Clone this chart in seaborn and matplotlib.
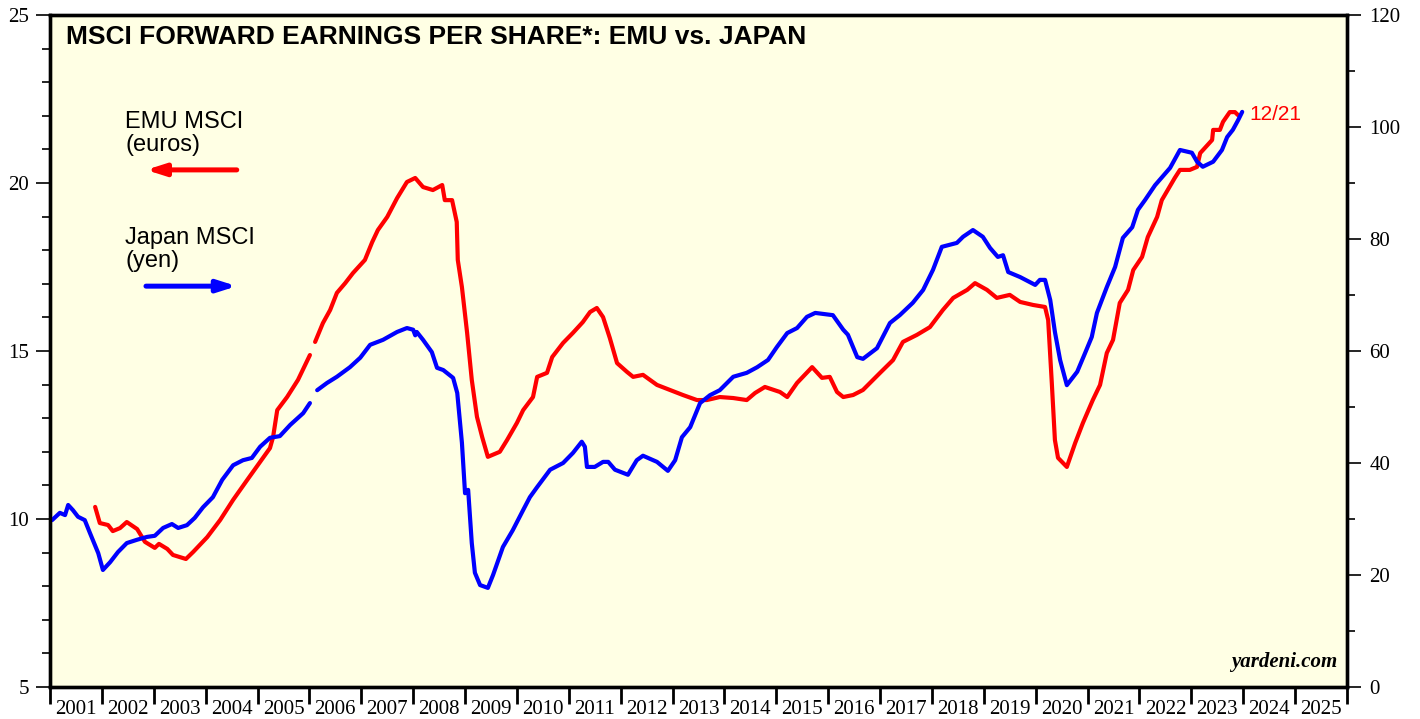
import numpy as np
import pandas as pd
import matplotlib
matplotlib.use("Agg")
import matplotlib.pyplot as plt
import seaborn as sns

# EMU MSCI forward EPS (euros), left axis
emu_year = [
    2001.87, 2001.96, 2002.12, 2002.21, 2002.35, 2002.48, 2002.68, 2002.83, 2003.02, 2003.10,
    2003.26, 2003.37, 2003.62, 2003.76, 2004.03, 2004.28, 2004.53, 2004.80, 2005.05, 2005.24,
    2005.30, 2005.38, 2005.57, 2005.78, 2006.01, 2006.11, 2006.26, 2006.40, 2006.53, 2006.69,
    2006.84, 2007.07, 2007.21, 2007.32, 2007.50, 2007.69, 2007.88, 2008.04, 2008.19, 2008.38,
    2008.56, 2008.61, 2008.75, 2008.84, 2008.86, 2008.94, 2009.04, 2009.13, 2009.23, 2009.33,
    2009.44, 2009.67, 2009.81, 2010.00, 2010.12, 2010.31, 2010.39, 2010.58, 2010.68, 2010.89,
    2011.08, 2011.27, 2011.41, 2011.54, 2011.66, 2011.79, 2011.93, 2012.12, 2012.24, 2012.43,
    2012.70, 2012.95, 2013.20, 2013.47, 2013.66, 2013.91, 2014.17, 2014.43, 2014.59, 2014.78,
    2015.07, 2015.21, 2015.40, 2015.69, 2015.88, 2016.03, 2016.17, 2016.29, 2016.48, 2016.67,
    2017.00, 2017.25, 2017.44, 2017.71, 2017.96, 2018.21, 2018.41, 2018.68, 2018.83, 2019.06,
    2019.25, 2019.50, 2019.70, 2019.95, 2020.18, 2020.24, 2020.31, 2020.37, 2020.43, 2020.60,
    2020.76, 2020.91, 2021.10, 2021.24, 2021.37, 2021.49, 2021.62, 2021.78, 2021.88, 2022.05,
    2022.16, 2022.34, 2022.43, 2022.68, 2022.78, 2022.97, 2023.11, 2023.17, 2023.40, 2023.42,
    2023.55, 2023.61, 2023.74, 2023.84, 2023.90,
]
emu_eps = [
    10.36, 9.88, 9.82, 9.64, 9.73, 9.91, 9.70, 9.32, 9.14, 9.26,
    9.11, 8.93, 8.81, 9.02, 9.46, 9.97, 10.57, 11.16, 11.70, 12.11,
    12.44, 13.24, 13.63, 14.14, 14.88, 15.27, 15.83, 16.22, 16.73, 17.02,
    17.32, 17.71, 18.24, 18.60, 18.99, 19.55, 20.03, 20.15, 19.88, 19.79,
    19.94, 19.49, 19.49, 18.84, 17.71, 16.90, 15.54, 14.14, 13.04, 12.44,
    11.85, 12.00, 12.35, 12.86, 13.24, 13.63, 14.23, 14.35, 14.82, 15.24,
    15.54, 15.86, 16.16, 16.28, 16.01, 15.39, 14.64, 14.38, 14.23, 14.29,
    13.99, 13.84, 13.69, 13.54, 13.54, 13.63, 13.60, 13.54, 13.75, 13.93,
    13.78, 13.63, 14.05, 14.52, 14.20, 14.23, 13.78, 13.63, 13.69, 13.84,
    14.35, 14.73, 15.27, 15.48, 15.71, 16.22, 16.58, 16.82, 17.02, 16.82,
    16.58, 16.67, 16.46, 16.37, 16.31, 15.92, 14.05, 12.35, 11.82, 11.55,
    12.26, 12.86, 13.54, 13.99, 14.94, 15.33, 16.43, 16.82, 17.41, 17.80,
    18.39, 18.99, 19.49, 20.15, 20.39, 20.39, 20.48, 20.89, 21.28, 21.58,
    21.58, 21.82, 22.11, 22.11, 22.02,
]

# Japan MSCI forward EPS (yen), right axis
jpn_year = [
    2001.04, 2001.19, 2001.29, 2001.35, 2001.44, 2001.54, 2001.67, 2001.77, 2001.93, 2002.02,
    2002.16, 2002.31, 2002.48, 2002.68, 2002.87, 2003.02, 2003.18, 2003.35, 2003.47, 2003.64,
    2003.79, 2003.95, 2004.14, 2004.32, 2004.53, 2004.72, 2004.89, 2005.05, 2005.24, 2005.43,
    2005.63, 2005.88, 2006.01, 2006.15, 2006.34, 2006.53, 2006.78, 2006.98, 2007.17, 2007.42,
    2007.69, 2007.88, 2008.00, 2008.04, 2008.07, 2008.19, 2008.36, 2008.46, 2008.58, 2008.77,
    2008.85, 2008.94, 2009.00, 2009.06, 2009.13, 2009.19, 2009.29, 2009.44, 2009.54, 2009.73,
    2009.92, 2010.12, 2010.25, 2010.39, 2010.64, 2010.89, 2011.08, 2011.25, 2011.31, 2011.35,
    2011.50, 2011.66, 2011.76, 2011.89, 2012.14, 2012.31, 2012.43, 2012.70, 2012.91, 2013.05,
    2013.18, 2013.34, 2013.53, 2013.72, 2013.91, 2014.17, 2014.43, 2014.63, 2014.84, 2015.01,
    2015.21, 2015.40, 2015.59, 2015.75, 2016.09, 2016.29, 2016.38, 2016.56, 2016.67, 2016.94,
    2017.19, 2017.38, 2017.63, 2017.83, 2018.02, 2018.19, 2018.48, 2018.60, 2018.79, 2018.98,
    2019.12, 2019.27, 2019.37, 2019.47, 2019.70, 2019.99, 2020.08, 2020.18, 2020.28, 2020.37,
    2020.47, 2020.60, 2020.80, 2020.95, 2021.08, 2021.18, 2021.37, 2021.53, 2021.68, 2021.86,
    2021.97, 2022.11, 2022.30, 2022.59, 2022.78, 2023.01, 2023.11, 2023.22, 2023.42, 2023.59,
    2023.69, 2023.80, 2023.90, 2023.98,
]
jpn_eps = [
    29.8, 31.1, 30.7, 32.5, 31.6, 30.4, 29.8, 27.5, 23.9, 20.9,
    22.3, 24.1, 25.7, 26.3, 26.8, 27.0, 28.4, 29.1, 28.4, 28.9,
    30.2, 32.1, 33.9, 37.0, 39.6, 40.5, 40.9, 42.9, 44.5, 44.8,
    46.8, 48.9, 50.7, 53.0, 54.3, 55.4, 57.1, 58.8, 61.1, 62.0,
    63.4, 64.1, 63.8, 62.8, 63.4, 62.0, 59.8, 57.0, 56.6, 55.2,
    52.5, 43.6, 34.6, 35.2, 25.7, 20.4, 18.2, 17.7, 20.0, 25.0,
    28.0, 31.6, 33.9, 35.7, 38.8, 40.0, 41.8, 43.8, 42.9, 39.3,
    39.3, 40.2, 40.2, 38.8, 37.9, 40.5, 41.3, 40.2, 38.6, 40.5,
    44.6, 46.4, 50.7, 52.1, 53.0, 55.4, 56.1, 57.1, 58.4, 60.7,
    63.2, 64.1, 66.1, 66.8, 66.4, 63.8, 62.9, 58.9, 58.6, 60.5,
    65.0, 66.4, 68.6, 70.9, 74.5, 78.6, 79.3, 80.4, 81.6, 80.4,
    78.4, 76.8, 77.1, 74.1, 73.2, 71.8, 72.7, 72.7, 69.1, 63.4,
    58.4, 53.9, 56.3, 59.6, 62.5, 66.8, 71.4, 75.0, 80.2, 82.1,
    85.2, 87.0, 89.6, 92.7, 95.9, 95.4, 93.8, 92.9, 93.8, 95.9,
    98.2, 99.5, 101.2, 102.7,
]

years = list(range(2001, 2026))
gap_year = 2006.06  # small break in both series
title = "MSCI FORWARD EARNINGS PER SHARE*: EMU vs. JAPAN"

emu = pd.DataFrame({"year": emu_year, "eps": emu_eps})
emu["seg"] = (emu["year"] > gap_year).astype(int)
jpn = pd.DataFrame({"year": jpn_year, "eps": jpn_eps})
jpn["seg"] = (jpn["year"] > gap_year).astype(int)

sns.set_style("ticks")
plt.rcParams.update({
    "text.color": "black",
    "xtick.color": "black",
    "ytick.color": "black",
    "axes.edgecolor": "black",
})
serif = "Liberation Serif"
sans = "Liberation Sans"

fig = plt.figure(figsize=(14.2, 7.19), dpi=100)
ax = fig.add_axes([50 / 1420, 32 / 719, 1297 / 1420, 672 / 719])
ax.set_facecolor("#FFFFE4")
ax2 = ax.twinx()
ax2.patch.set_visible(False)

sns.lineplot(data=emu, x="year", y="eps", units="seg", estimator=None,
             color="#FF0000", linewidth=3.0, ax=ax)
sns.lineplot(data=jpn, x="year", y="eps", units="seg", estimator=None,
             color="#0000FF", linewidth=3.0, ax=ax2)

ax.set_xlim(2001, 2026)
ax.set_ylim(5, 25)
ax2.set_ylim(0, 120)
ax.set_xlabel("")
ax.set_ylabel("")
ax2.set_ylabel("")

# x axis: tick lines at year boundaries, labels centred in each year
ax.set_xticks(range(2001, 2027))
ax.set_xticklabels([])
ax.set_xticks([y + 0.5 for y in years], minor=True)
ax.set_xticklabels([str(y) for y in years], minor=True, fontfamily=serif, fontsize=15)
ax.tick_params(axis="x", which="major", direction="out", length=12, width=2)
ax.tick_params(axis="x", which="minor", length=0, pad=9)

ax.set_yticks([5, 10, 15, 20, 25])
ax.set_yticks(range(5, 26), minor=True)
ax.set_yticklabels(["5", "10", "15", "20", "25"], fontfamily=serif, fontsize=15)
ax.tick_params(axis="y", which="major", direction="out", length=10, width=1.2, pad=5)
ax.tick_params(axis="y", which="minor", direction="out", length=6, width=1.2)

ax2.set_yticks(range(0, 121, 20))
ax2.set_yticks(range(0, 121, 10), minor=True)
ax2.set_yticklabels([str(v) for v in range(0, 121, 20)], fontfamily=serif, fontsize=15)
ax2.tick_params(axis="y", which="major", direction="out", length=10, width=1.2, pad=6)
ax2.tick_params(axis="y", which="minor", direction="out", length=6, width=1.2)

for a in (ax, ax2):
    for s in a.spines.values():
        s.set_visible(True)
        s.set_linewidth(2.4)
        s.set_color("black")

ax.text(0.0125, 0.968, title, transform=ax.transAxes, fontfamily=sans,
        fontweight="bold", fontsize=19, va="center", ha="left")

ax.text(2002.45, 22.15, "EMU MSCI\n(euros)", fontfamily=sans, fontsize=17,
        va="top", ha="left", linespacing=1.05)
ax.annotate("", xy=(2002.85, 20.39), xytext=(2004.6, 20.39),
            arrowprops=dict(arrowstyle="-|>,head_length=1.1,head_width=0.35",
                            color="#FF0000", lw=3.6, shrinkA=0, shrinkB=0))
ax.text(2002.45, 18.7, "Japan MSCI\n(yen)", fontfamily=sans, fontsize=17,
        va="top", ha="left", linespacing=1.05)
ax.annotate("", xy=(2004.6, 16.93), xytext=(2002.85, 16.93),
            arrowprops=dict(arrowstyle="-|>,head_length=1.1,head_width=0.35",
                            color="#0000FF", lw=3.6, shrinkA=0, shrinkB=0))

ax.text(2024.11, 22.05, "12/21", color="#FF0000", fontfamily=sans, fontsize=15,
        va="center", ha="left")
ax.text(0.9925, 0.022, "yardeni.com", transform=ax.transAxes, fontfamily=serif,
        fontweight="bold", fontstyle="italic", fontsize=15, ha="right", va="bottom")

fig.savefig("out.png", dpi=100)
